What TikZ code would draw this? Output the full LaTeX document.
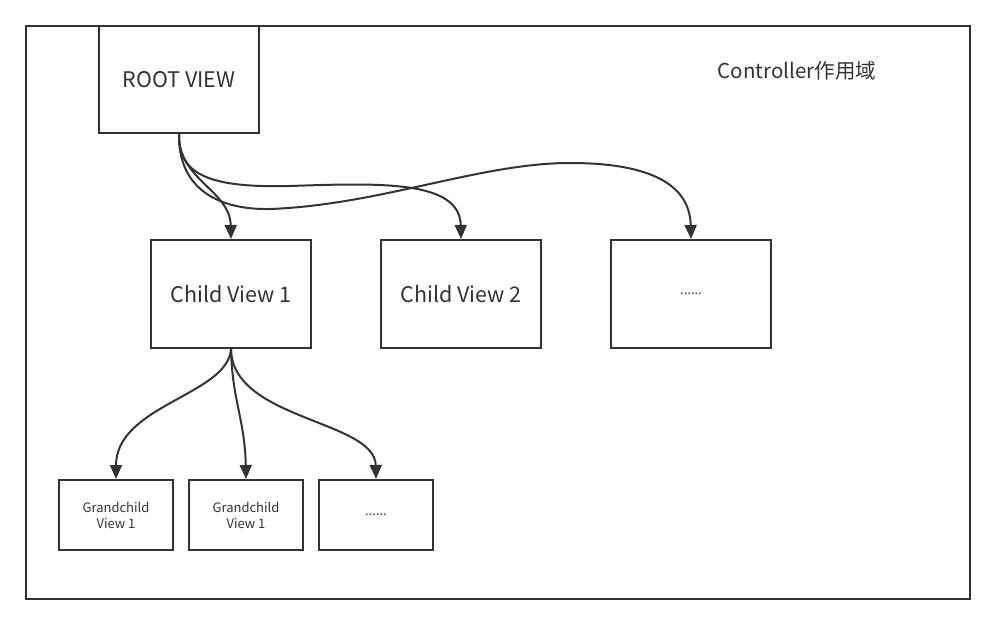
\documentclass[tikz,border=0pt]{standalone}
\usepackage{fontspec}
\setmainfont{Noto Sans CJK SC}
\usetikzlibrary{arrows.meta}
\definecolor{ink}{HTML}{333333}
\tikzset{
  box/.style={draw=ink, line width=2pt, text=ink, inner sep=0pt, align=center, anchor=north west},
  link/.style={draw=ink, line width=2pt, -{Triangle[length=14pt,width=12pt]}},
  big/.style={font=\fontsize{21.5}{26}\selectfont},
  small/.style={font=\fontsize{13}{16}\selectfont},
}
\begin{document}
\begin{tikzpicture}[x=1pt,y=-1pt]
\useasboundingbox (0,0) rectangle (994,623);
\node[box, minimum width=944pt, minimum height=573pt] (frame) at (25,25) {};
\node[text=ink, font=\fontsize{20.5}{24}\selectfont] (ctl) at (797,71) {Controller作用域};
\node[box, big, minimum width=160pt, minimum height=107pt] (root) at (98,25) {ROOT VIEW};
\node[box, big, minimum width=160pt, minimum height=108pt] (c1) at (150,239) {Child View 1};
\node[box, big, minimum width=160pt, minimum height=108pt] (c2) at (380,239) {Child View 2};
\node[box, small, minimum width=160pt, minimum height=108pt] (c3) at (610,239) {......};
\node[box, small, minimum width=114pt, minimum height=70pt] (g1) at (58,479) {Grandchild\\View 1};
\node[box, small, minimum width=114pt, minimum height=70pt] (g2) at (188,479) {Grandchild\\View 1};
\node[box, small, minimum width=114pt, minimum height=70pt] (g3) at (318,479) {......};
% root -> children
\draw[link] (root.south) .. controls (178,180) and (230,190) .. (c1.north);
\draw[link] (root.south) .. controls (178,175) and (210,188) .. (290,186)
  .. controls (380,183) and (460,180) .. (c2.north);
\draw[link] (root.south) .. controls (178,190) and (220,210) .. (270,209)
  .. controls (380,205) and (480,163) .. (570,163)
  .. controls (660,163) and (690,190) .. (c3.north);
% child 1 -> grandchildren
\draw[link] (c1.south) .. controls (228,395) and (116,405) .. (g1.north);
\draw[link] (c1.south) .. controls (232,400) and (245,420) .. (g2.north);
\draw[link] (c1.south) .. controls (232,420) and (375,420) .. (g3.north);
\end{tikzpicture}
\end{document}
